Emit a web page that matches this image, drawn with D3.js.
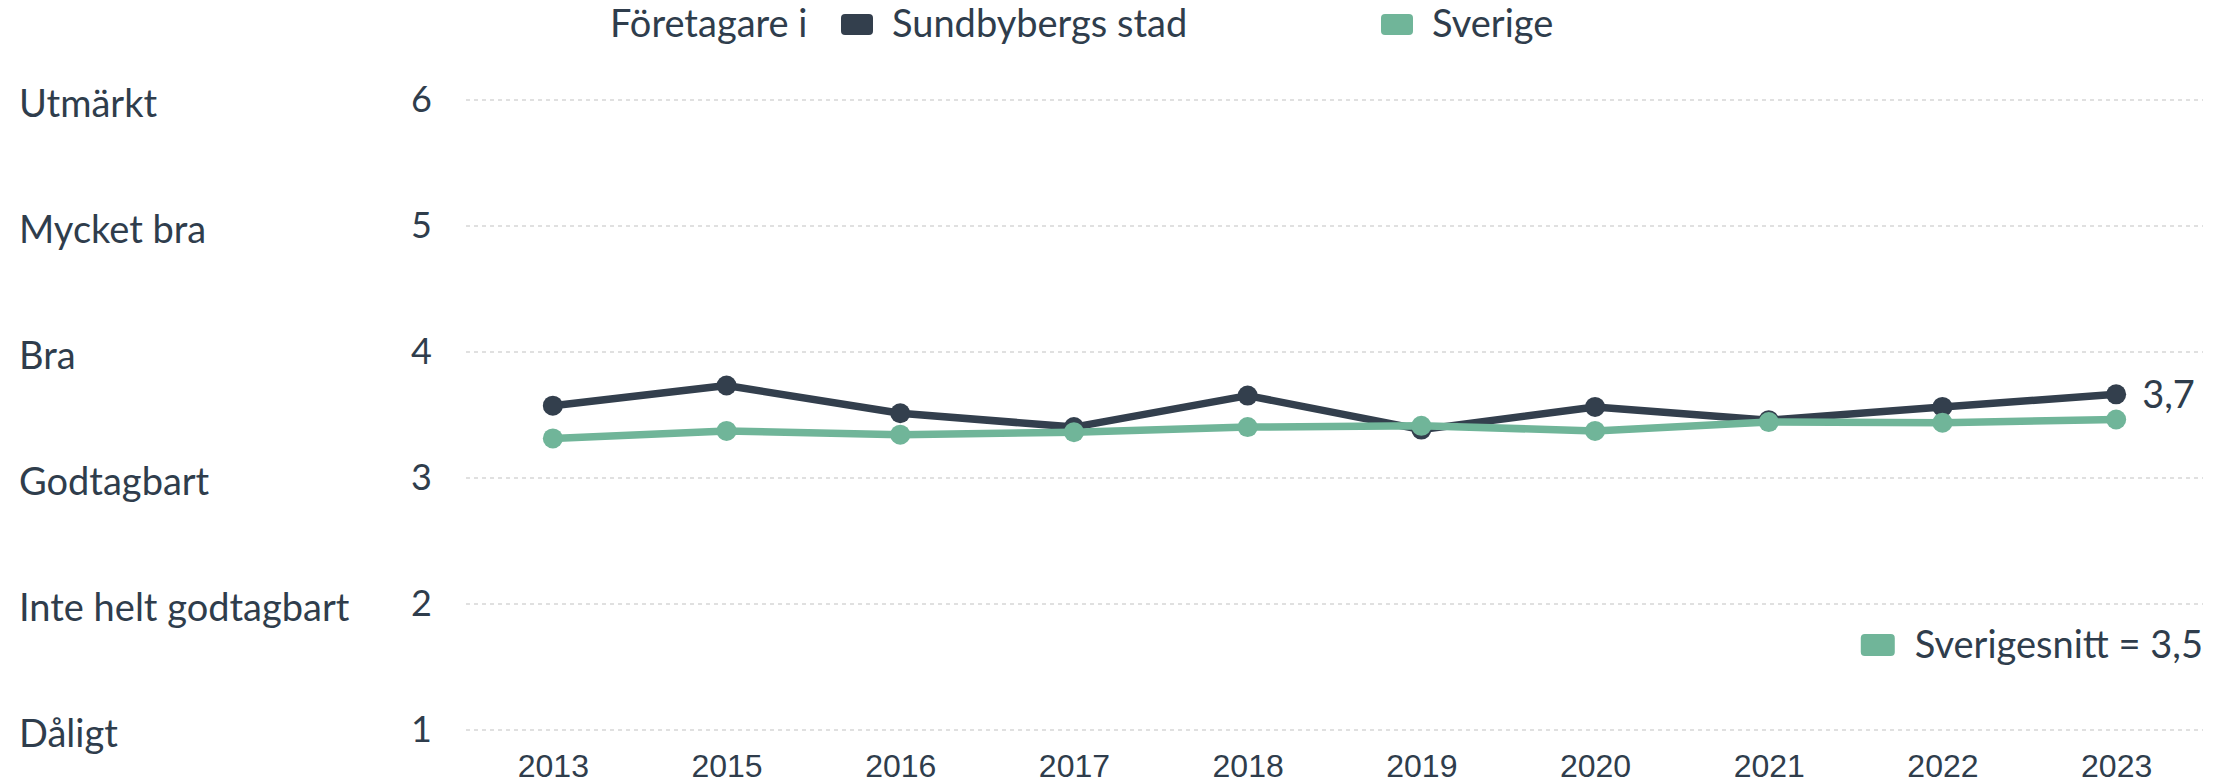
<!DOCTYPE html>
<html>
<head>
<meta charset="utf-8">
<script src="https://cdn.jsdelivr.net/npm/d3@7"></script>
<style>
	body { margin: 0; background: #fff; }
	text { fill: #2f3d4c; }
</style>
</head>
<body>
<script>
//chart data
var years = ["2013", "2015", "2016", "2017", "2018", "2019", "2020", "2021", "2022", "2023"];
var sundbyberg = [3.57, 3.73, 3.51, 3.40, 3.65, 3.38, 3.56, 3.455, 3.56, 3.66];
var sverige = [3.31, 3.37, 3.34, 3.36, 3.40, 3.41, 3.37, 3.44, 3.435, 3.46];
var yTicks = [1, 2, 3, 4, 5, 6];
var ratingLabels = ["Dåligt", "Inte helt godtagbart", "Godtagbart", "Bra", "Mycket bra", "Utmärkt"];
var legendTitle = "Företagare i";
var seriesNames = ["Sundbybergs stad", "Sverige"];
var avgLabel = "Sverigesnitt";

window.onload = drawChart();

function drawChart(){

	//colours
	var dark = "#333f4d",
		green = "#70b599";

	//dimensions
	var width = 2231,
		height = 783;
	var plotLeft = 466,
		plotRight = 2203,
		plotTop = 99.5,
		plotBottom = 729.5;

	var svg = d3.select("body")
		.append("svg")
		.attr("width", width)
		.attr("height", height);

	//scales
	var x = d3.scalePoint()
		.domain(years)
		.range([plotLeft, plotRight])
		.padding(0.5);

	var y = d3.scaleLinear()
		.domain([1, 6])
		.range([plotBottom, plotTop]);

	var comma = function(v){
		return d3.format(".1f")(v).replace(".", ",");
	};

	//y axis with dashed grid
	var yAxis = svg.append("g")
		.attr("transform", "translate(" + plotLeft + ",0)")
		.call(d3.axisLeft(y)
			.tickValues(yTicks)
			.tickSize(-(plotRight - plotLeft))
			.tickPadding(34)
			.tickFormat(d3.format("d")));
	yAxis.select(".domain").remove();
	yAxis.selectAll("line")
		.attr("stroke", "#c2c2c2")
		.attr("stroke-width", 1.2)
		.attr("stroke-dasharray", "4,4");
	yAxis.selectAll("text")
		.attr("font-family", "Lato, sans-serif")
		.attr("font-size", 36)
		.attr("fill", "#2f3d4c");

	//rating names on the far left
	svg.selectAll(".rating")
		.data(yTicks)
		.enter()
		.append("text")
		.attr("class", "rating")
		.attr("x", 19)
		.attr("y", function(d){ return y(d) + 4; })
		.attr("dy", "0.35em")
		.attr("font-family", "Lato, sans-serif")
		.attr("font-size", 38)
		.text(function(d, i){ return ratingLabels[i]; });

	//x axis
	var xAxis = svg.append("g")
		.attr("transform", "translate(0," + plotBottom + ")")
		.call(d3.axisBottom(x).tickSize(0).tickPadding(25));
	xAxis.select(".domain").remove();
	xAxis.selectAll("text")
		.attr("font-family", "'Liberation Sans', Arial, sans-serif")
		.attr("font-size", 32)
		.attr("fill", "#2f3d4c");

	//lines and markers
	var line = d3.line()
		.x(function(d, i){ return x(years[i]); })
		.y(function(d){ return y(d); });

	[[sundbyberg, dark], [sverige, green]].forEach(function(s){
		svg.append("path")
			.datum(s[0])
			.attr("fill", "none")
			.attr("stroke", s[1])
			.attr("stroke-width", 7.5)
			.attr("stroke-linejoin", "round")
			.attr("d", line);
		svg.selectAll(null)
			.data(s[0])
			.enter()
			.append("circle")
			.attr("cx", function(d, i){ return x(years[i]); })
			.attr("cy", function(d){ return y(d); })
			.attr("r", 10)
			.attr("fill", s[1]);
	});

	//value label at the last point
	var last = years.length - 1;
	svg.append("text")
		.attr("x", x(years[last]) + 26)
		.attr("y", y(sundbyberg[last]))
		.attr("dy", "0.35em")
		.attr("font-family", "Lato, sans-serif")
		.attr("font-size", 38)
		.text(comma(sundbyberg[last]));

	//top legend
	var legend = svg.append("g")
		.attr("font-family", "Lato, sans-serif")
		.attr("font-size", 38);
	legend.append("text")
		.attr("x", 610)
		.attr("y", 37)
		.text(legendTitle);
	var legendX = [841, 1381];
	seriesNames.forEach(function(name, i){
		legend.append("rect")
			.attr("x", legendX[i])
			.attr("y", 14)
			.attr("width", 32)
			.attr("height", 21)
			.attr("rx", 4)
			.attr("fill", i == 0 ? dark : green);
		legend.append("text")
			.attr("x", legendX[i] + 51)
			.attr("y", 37)
			.text(name);
	});

	//average legend bottom right
	var avgText = svg.append("text")
		.attr("x", plotRight)
		.attr("y", 658)
		.attr("text-anchor", "end")
		.attr("font-family", "Lato, sans-serif")
		.attr("font-size", 38)
		.text(avgLabel + " = " + comma(sverige[last]));
	var avgW = avgText.node().getComputedTextLength();
	svg.append("rect")
		.attr("x", plotRight - avgW - 20 - 34)
		.attr("y", 634)
		.attr("width", 34)
		.attr("height", 22)
		.attr("rx", 4)
		.attr("fill", green);
};
</script>
</body>
</html>
